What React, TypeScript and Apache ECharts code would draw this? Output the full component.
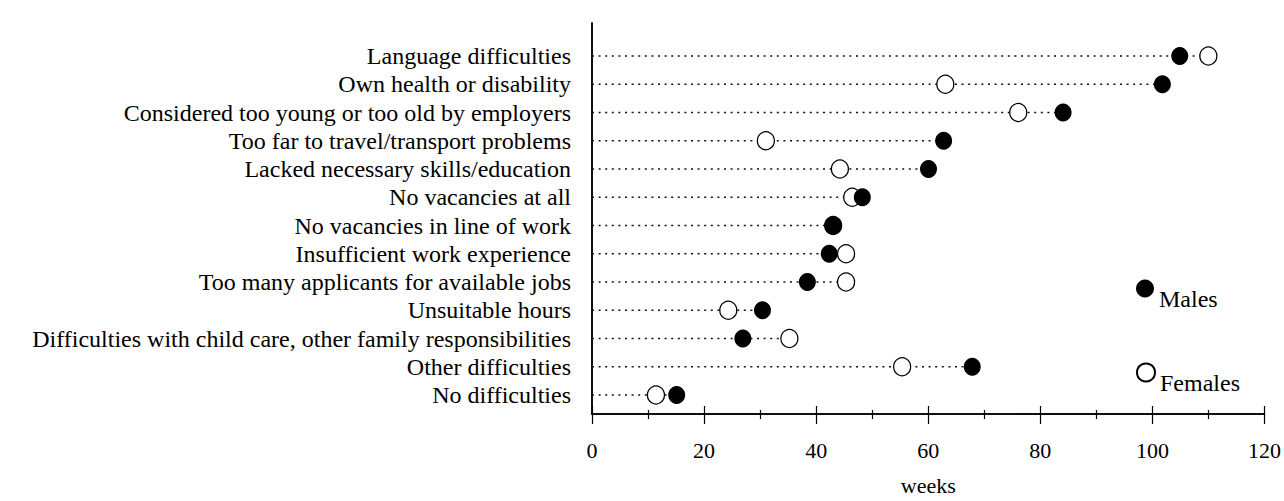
import React, { useEffect, useRef } from "react";
import * as echarts from "echarts";

const categories = [
  "Language difficulties",
  "Own health or disability",
  "Considered too young or too old by employers",
  "Too far to travel/transport problems",
  "Lacked necessary skills/education",
  "No vacancies at all",
  "No vacancies in line of work",
  "Insufficient work experience",
  "Too many applicants for available jobs",
  "Unsuitable hours",
  "Difficulties with child care, other family responsibilities",
  "Other difficulties",
  "No difficulties",
];
const males = [104.8, 101.7, 84.0, 62.7, 60.0, 48.2, 43.0, 42.3, 38.4, 30.4, 26.9, 67.8, 15.1];
const females = [109.9, 63.0, 76.0, 31.0, 44.2, 46.4, 43.0, 45.3, 45.3, 24.3, 35.2, 55.3, 11.4];
const xTicks = [0, 20, 40, 60, 80, 100, 120];

const FONT = "Liberation Serif";

export default function App() {
  const ref = useRef<HTMLDivElement>(null);
  useEffect(() => {
    if (!ref.current) return;
    const chart = echarts.init(ref.current, undefined, { renderer: "svg" });
    const lineData = categories.map((_, i) => [Math.max(males[i], females[i]), i]);
    const axisLineStyle = { color: "#000", width: 1.5 };
    const legendText = {
      fontFamily: FONT,
      fontSize: 24,
      color: "#000",
      lineHeight: 21,
    };
    chart.setOption({
      animation: false,
      backgroundColor: "#fff",
      grid: [
        { left: 592, width: 673, top: 56, height: 339 },
        { left: 592, width: 673, top: 23, height: 402 },
      ],
      xAxis: [
        { gridIndex: 0, type: "value", min: 0, max: 120, show: false },
        {
          gridIndex: 1,
          type: "value",
          position: "bottom",
          min: 0,
          max: 120,
          interval: 20,
          axisLine: { show: true, lineStyle: axisLineStyle },
          axisTick: { show: true, inside: false, length: 10, lineStyle: { color: "#000", width: 1.2 } },
          minorTick: { show: true, splitNumber: 2, length: 5, lineStyle: { color: "#000", width: 1.2 } },
          splitLine: { show: false },
          axisLabel: {
            fontFamily: FONT,
            fontSize: 22,
            color: "#000",
            margin: 25,
            formatter: (v: number) => (xTicks.includes(v) ? String(v) : ""),
          },
          name: "weeks",
          nameLocation: "middle",
          nameGap: 60,
          nameTextStyle: { fontFamily: FONT, fontSize: 22, color: "#000" },
        },
        {
          gridIndex: 1,
          type: "value",
          position: "top",
          min: 0,
          max: 120,
          interval: 20,
          axisLine: { show: true, lineStyle: axisLineStyle },
          axisTick: { show: true, inside: false, length: 8, lineStyle: { color: "#000", width: 1.2 } },
          minorTick: { show: true, splitNumber: 2, length: 4, lineStyle: { color: "#000", width: 1.2 } },
          splitLine: { show: false },
          axisLabel: { show: false },
        },
      ],
      yAxis: [
        {
          gridIndex: 0,
          type: "category",
          data: categories,
          inverse: true,
          boundaryGap: false,
          axisLine: { show: false },
          axisTick: { show: false },
          splitLine: { show: false },
          axisLabel: {
            fontFamily: FONT,
            fontSize: 24,
            color: "#000",
            margin: 21,
            interval: 0,
          },
        },
        {
          gridIndex: 1,
          type: "value",
          position: "left",
          min: 0,
          max: 1,
          axisLine: { show: true, lineStyle: axisLineStyle },
          axisTick: { show: false },
          axisLabel: { show: false },
          splitLine: { show: false },
        },
        {
          gridIndex: 1,
          type: "value",
          position: "right",
          min: 0,
          max: 1,
          axisLine: { show: true, lineStyle: axisLineStyle },
          axisTick: { show: false },
          axisLabel: { show: false },
          splitLine: { show: false },
        },
      ],
      legend: [
        {
          data: ["Males"],
          left: 1131,
          top: 261,
          itemWidth: 18,
          itemHeight: 18,
          formatter: (name: string) => "\n" + name,
          textStyle: legendText,
        },
        {
          data: ["Females"],
          left: 1131,
          top: 345,
          itemWidth: 18,
          itemHeight: 18,
          formatter: (name: string) => "\n" + name,
          textStyle: legendText,
        },
      ],
      series: [
        {
          type: "custom",
          name: "range",
          xAxisIndex: 0,
          yAxisIndex: 0,
          silent: true,
          encode: { x: 0, y: 1 },
          data: lineData,
          renderItem: (params: any, api: any) => {
            const idx = api.value(1);
            const p0 = api.coord([0, idx]);
            const p1 = api.coord([api.value(0), idx]);
            return {
              type: "line",
              shape: { x1: p0[0], y1: p0[1], x2: p1[0], y2: p1[1] },
              style: { stroke: "#111", lineWidth: 1.3, lineDash: [2, 4.6] },
            };
          },
          z: 1,
        },
        {
          type: "scatter",
          name: "Females",
          xAxisIndex: 0,
          yAxisIndex: 0,
          data: females.map((v, i) => [v, i]),
          symbol: "circle",
          symbolSize: [17, 18],
          itemStyle: { color: "#fff", borderColor: "#000", borderWidth: 1.3, opacity: 1 },
          z: 2,
        },
        {
          type: "scatter",
          name: "Males",
          xAxisIndex: 0,
          yAxisIndex: 0,
          data: males.map((v, i) => [v, i]),
          symbol: "circle",
          symbolSize: [17, 18],
          itemStyle: { color: "#000", borderColor: "#000", borderWidth: 0, opacity: 1 },
          z: 3,
        },
      ],
    });
    return () => chart.dispose();
  }, []);
  return (
    <div
      ref={ref}
      style={{ position: "fixed", left: 0, top: 0, width: 1284, height: 501, background: "#fff" }}
    />
  );
}
